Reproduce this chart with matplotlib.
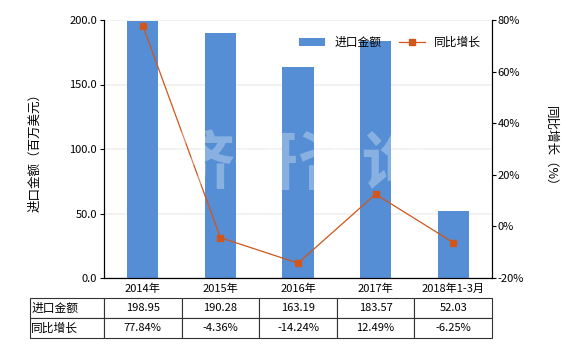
import matplotlib
matplotlib.use('Agg')
import matplotlib.pyplot as plt
import numpy as np

plt.rcParams['font.family'] = ['Noto Sans CJK SC', 'DejaVu Sans']
plt.rcParams['font.size'] = 8

categories = ['2014年', '2015年', '2016年', '2017年', '2018年1-3月']
import_amount = [198.95, 190.28, 163.19, 183.57, 52.03]
yoy_growth = [77.84, -4.36, -14.24, 12.49, -6.25]
amount_labels = ['198.95', '190.28', '163.19', '183.57', '52.03']
growth_labels = ['77.84%', '-4.36%', '-14.24%', '12.49%', '-6.25%']

bar_color = '#558ed5'
line_color = '#d0561b'

fig = plt.figure(figsize=(5.8, 3.5), dpi=100)
ax = fig.add_axes([104 / 580, 72 / 350, 388 / 580, 258 / 350])
x = np.arange(len(categories))

ax.bar(x, import_amount, width=0.4, color=bar_color, label='进口金额', zorder=2)
ax.set_xlim(-0.5, len(categories) - 0.5)
ax.set_ylim(0, 200)
ax.set_yticks([0, 50, 100, 150, 200])
ax.set_yticklabels(['%.1f' % v for v in [0, 50, 100, 150, 200]])
ax.set_xticks(x)
ax.set_xticklabels(categories)
ax.tick_params(axis='x', length=0, pad=4)
ax.tick_params(axis='y', length=3, pad=2)
ax.grid(axis='y', color='#f0f0f0', linewidth=1.2, linestyle='-', zorder=0)
ax.set_axisbelow(True)
ax.spines['top'].set_visible(False)
ax.set_ylabel('进口金额（百万美元）', fontsize=9, labelpad=20)

ax2 = ax.twinx()
ax2.plot(x, yoy_growth, color=line_color, linewidth=0.9, marker='s', markersize=4,
         label='同比增长', zorder=3)
ax2.set_ylim(-20, 80)
ax2.set_yticks([-20, 0, 20, 40, 60, 80])
ax2.set_yticklabels(['%d%%' % v for v in [-20, 0, 20, 40, 60, 80]])
ax2.tick_params(axis='y', length=3, pad=1)
ax2.spines['top'].set_visible(False)
ax2.set_ylabel('同比增长（%）', fontsize=9, rotation=270, labelpad=24)

# watermark
fig.text(0.515, 0.53, '济研咨询', fontsize=46, color='white', alpha=0.3,
         ha='center', va='center', fontweight='bold', zorder=10)

h1, l1 = ax.get_legend_handles_labels()
h2, l2 = ax2.get_legend_handles_labels()
ax2.legend(h1 + h2, l1 + l2, loc='upper right', bbox_to_anchor=(1.0, 0.98),
           ncol=2, frameon=False, fontsize=8.5, handlelength=2.2, columnspacing=1.5)

# data table under the chart
cell_text = [['进口金额'] + amount_labels, ['同比增长'] + growth_labels]
tbl = ax.table(cellText=cell_text, cellLoc='center',
               colWidths=[74 / 388] + [1 / 5] * 5,
               bbox=[-74 / 388, -60 / 258, 462 / 388, 40 / 258])
tbl.auto_set_font_size(False)
tbl.set_fontsize(8)
for (r, c), cell in tbl.get_celld().items():
    cell.set_linewidth(0.8)
    cell.set_edgecolor('#333333')
    if c == 0:
        cell.set_text_props(ha='left', fontsize=8.5)
        cell.PAD = 0.02

fig.savefig('out.png', dpi=100)
